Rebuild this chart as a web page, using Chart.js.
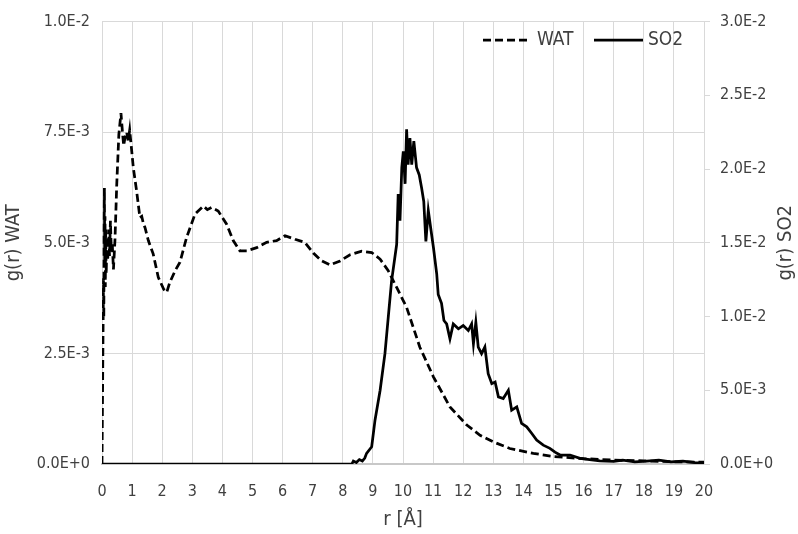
<!DOCTYPE html>
<html><head><meta charset="utf-8">
<script src="https://cdn.jsdelivr.net/npm/chart.js@4.4.1/dist/chart.umd.min.js"></script>
<style>html,body{margin:0;padding:0;background:#fff}</style>
</head><body>
<canvas id="c" width="798" height="534"></canvas>
<script>
// r [Å] and g(r) for WAT (left axis)
const watR = [0.00,0.03,0.05,0.06,0.07,0.08,0.09,0.10,0.11,0.12,0.14,0.16,0.19,0.22,0.25,0.28,0.31,0.34,0.38,0.43,0.49,0.56,0.63,0.68,0.72,0.77,0.82,0.87,0.92,1.04,1.15,1.26,1.32,1.37,1.43,1.54,1.70,1.87,2.05,2.15,2.25,2.43,2.59,2.81,3.09,3.37,3.50,3.64,3.86,4.14,4.36,4.58,4.81,5.14,5.47,5.80,6.08,6.41,6.74,7.02,7.30,7.57,7.91,8.24,8.63,8.96,9.24,9.51,9.79,10.12,10.56,11.01,11.56,12.12,12.56,13.00,13.55,14.33,15.00,16.00,17.00,18.00,19.00,20.00];
const watG = [0,0.0026,0.0042,0.0033,0.0052,0.00624,0.0046,0.0056,0.0040,0.0053,0.0043,0.0050,0.0046,0.0053,0.0047,0.0055,0.0048,0.0050,0.0044,0.00505,0.00632,0.00745,0.00793,0.0075,0.0072,0.0074,0.0075,0.0073,0.00755,0.0067,0.00617,0.00557,0.0056,0.00545,0.00534,0.00505,0.00475,0.00422,0.00395,0.00388,0.0041,0.00437,0.00456,0.00512,0.00565,0.00583,0.00575,0.0058,0.00572,0.00542,0.00505,0.00482,0.00482,0.00489,0.00501,0.00505,0.00516,0.00508,0.00501,0.00477,0.00459,0.0045,0.00459,0.00473,0.00481,0.00478,0.00463,0.00437,0.00399,0.00354,0.00264,0.00197,0.00129,0.00088,0.00065,0.0005,0.00035,0.00024,0.00017,0.00012,0.00009,0.00007,0.00005,0.00004];
// r [Å] and g(r) for SO2 (right axis)
const so2R = [0,8.30,8.35,8.45,8.55,8.65,8.73,8.79,8.96,9.07,9.24,9.40,9.51,9.62,9.79,9.84,9.90,9.96,10.01,10.07,10.12,10.17,10.23,10.29,10.36,10.45,10.54,10.62,10.69,10.76,10.84,10.92,11.01,11.12,11.17,11.28,11.36,11.45,11.56,11.67,11.84,12.00,12.17,12.28,12.34,12.42,12.50,12.61,12.72,12.83,12.95,13.06,13.17,13.33,13.50,13.61,13.78,13.94,14.11,14.28,14.44,14.66,14.88,15.05,15.22,15.55,15.88,16.20,16.54,17.00,17.30,17.70,18.10,18.50,18.90,19.30,19.70,20.00];
const so2G = [0,0,0.0002,0.0001,0.0003,0.0002,0.0004,0.00072,0.00117,0.00297,0.0050,0.00748,0.00995,0.0124,0.0149,0.0183,0.0165,0.0201,0.0212,0.0190,0.0227,0.0203,0.0221,0.0203,0.0219,0.0201,0.0196,0.0187,0.0178,0.0151,0.0172,0.0160,0.0147,0.0129,0.0115,0.0109,0.00973,0.0095,0.00849,0.0095,0.00917,0.00939,0.00905,0.0095,0.00815,0.00961,0.00793,0.00748,0.00793,0.00613,0.00545,0.00556,0.00455,0.00444,0.0050,0.00365,0.00387,0.00275,0.00252,0.00207,0.00162,0.00128,0.00106,0.0008,0.00061,0.00061,0.00038,0.0003,0.00022,0.00018,0.00027,0.00015,0.0002,0.00027,0.00015,0.0002,0.0001,0.00005];
const xTicks = [0,1,2,3,4,5,6,7,8,9,10,11,12,13,14,15,16,17,18,19,20];
const leftTicks = [0,0.0025,0.005,0.0075,0.01];
const rightTicks = [0,0.005,0.01,0.015,0.02,0.025,0.03];
const seriesNames = ['WAT','SO2'];

const FONT = "'DejaVu Sans Condensed','Liberation Sans Narrow','Roboto',sans-serif";
const TXT = '#404040';
const GRID = '#d9d9d9';
Chart.defaults.font.family = FONT;
Chart.defaults.color = TXT;

const fmt = v => Number(v).toExponential(1).toUpperCase();

const extras = {
  id: 'extras',
  afterDraw(chart) {
    const ctx = chart.ctx, a = chart.chartArea;
    ctx.save();
    // right axis title
    ctx.font = '20px ' + FONT;
    ctx.fillStyle = TXT;
    ctx.textAlign = 'center';
    ctx.textBaseline = 'middle';
    ctx.translate(786, (a.top + a.bottom) / 2);
    ctx.rotate(-Math.PI / 2);
    ctx.fillText('g(r) SO2', 0, 0);
    ctx.restore();
    // legend
    ctx.save();
    const ly = 40;
    ctx.strokeStyle = '#000';
    ctx.lineWidth = 2.75;
    ctx.setLineDash([8, 4]);
    ctx.beginPath(); ctx.moveTo(a.right - 221, ly); ctx.lineTo(a.right - 174, ly); ctx.stroke();
    ctx.setLineDash([]);
    ctx.beginPath(); ctx.moveTo(a.right - 110, ly); ctx.lineTo(a.right - 61, ly); ctx.stroke();
    ctx.font = '19px ' + FONT;
    ctx.fillStyle = TXT;
    ctx.textBaseline = 'middle';
    ctx.textAlign = 'left';
    ctx.fillText(seriesNames[0], a.right - 167, ly);
    ctx.fillText(seriesNames[1], a.right - 56, ly);
    ctx.restore();
  }
};

new Chart(document.getElementById('c'), {
  type: 'line',
  data: {
    datasets: [
      { label: seriesNames[0], data: watR.map((r, i) => ({x: r, y: watG[i]})), yAxisID: 'y',
        borderColor: '#000', borderWidth: 2.75, borderDash: [8, 4], pointRadius: 0, tension: 0, fill: false },
      { label: seriesNames[1], data: so2R.map((r, i) => ({x: r, y: so2G[i]})), yAxisID: 'y2',
        borderColor: '#000', borderWidth: 2.75, pointRadius: 0, tension: 0, fill: false }
    ]
  },
  options: {
    responsive: false,
    animation: false,
    layout: { padding: { top: 20, left: 0, right: 0, bottom: 0 } },
    plugins: { legend: { display: false }, tooltip: { enabled: false } },
    scales: {
      x: {
        type: 'linear', min: 0, max: 20,
        afterBuildTicks: s => { s.ticks = xTicks.map(v => ({value: v})); },
        afterFit: s => { s.height = 70; },
        ticks: { font: { size: 16 }, padding: 18, maxRotation: 0, autoSkip: false, color: TXT },
        grid: { color: GRID, lineWidth: 1, drawTicks: false },
        border: { display: true, color: '#c8c8c8', width: 2 },
        title: { display: true, text: 'r [Å]', font: { size: 20 }, color: TXT, padding: { top: 0, bottom: 2 } }
      },
      y: {
        position: 'left', min: 0, max: 0.01,
        afterBuildTicks: s => { s.ticks = leftTicks.map(v => ({value: v})); },
        afterFit: s => { s.width = 102; },
        ticks: { font: { size: 16 }, padding: 12, color: TXT, callback: v => fmt(v) },
        grid: { color: GRID, lineWidth: 1, drawTicks: false },
        border: { display: false },
        title: { display: true, text: 'g(r) WAT', font: { size: 20 }, color: TXT, padding: { top: 2, bottom: 0 } }
      },
      y2: {
        position: 'right', min: 0, max: 0.03,
        afterBuildTicks: s => { s.ticks = rightTicks.map(v => ({value: v})); },
        afterFit: s => { s.width = 94; },
        ticks: { font: { size: 16 }, padding: 10, color: TXT, callback: v => fmt(v) },
        grid: { drawOnChartArea: false, drawTicks: true, tickLength: 6, color: GRID },
        border: { display: true, color: GRID, width: 1 }
      }
    }
  },
  plugins: [extras]
});
</script>
</body></html>
